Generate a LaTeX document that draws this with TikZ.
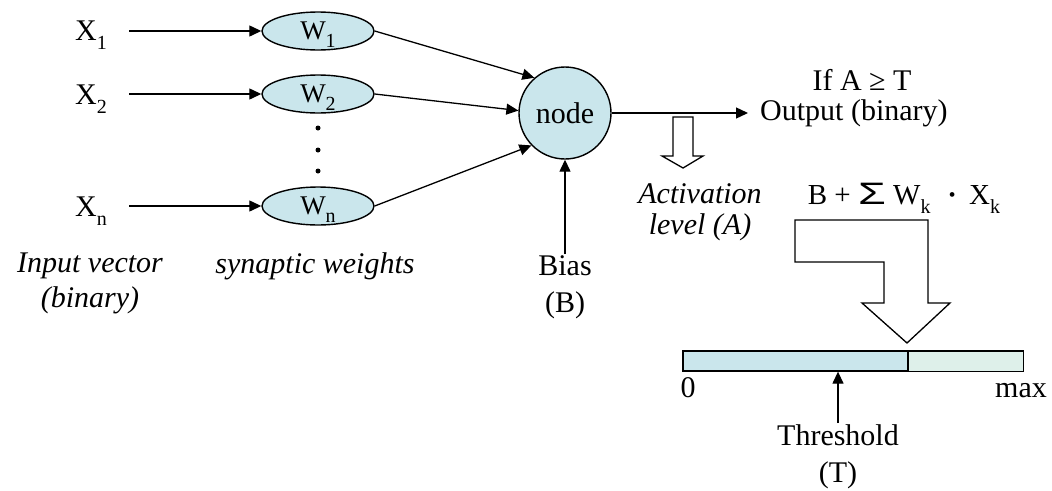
\documentclass[tikz,border=0pt]{standalone}
\usepackage{fontspec}
\usepackage{graphicx}
\setmainfont{Liberation Serif}
\newfontfamily\sigmafont{Liberation Sans}
\usetikzlibrary{arrows.meta,shapes.geometric}
\definecolor{cellfill}{RGB}{202,230,236}
\definecolor{barhi}{RGB}{222,240,234}
% lowered subscript that does not change the height of the line
\newcommand\lowsub[1]{\smash{\raisebox{-0.3em}{\fontsize{20}{20}\selectfont #1}}}
\begin{document}
\begin{tikzpicture}[x=1pt,y=-1pt,
  every node/.style={font=\fontsize{30}{36}\selectfont},
  arr/.style={-{Triangle[length=12pt,width=11pt]}, line width=1.3pt},
  weight/.style={ellipse, draw, line width=1.4pt, fill=cellfill,
    minimum width=112pt, minimum height=38pt, inner sep=0pt,
    font=\fontsize{27}{30}\selectfont},
  neuron/.style={circle, draw, line width=1.4pt, fill=cellfill,
    minimum size=92pt, inner sep=0pt},
  hollow/.style={draw, line width=1.3pt, fill=white, line join=miter},
  tag/.style={inner sep=1pt, align=center},
  itag/.style={tag, font=\itshape\fontsize{30}{34}\selectfont},
]
\path[use as bounding box] (0,0) rectangle (1052,490);

% inputs
\node[anchor=base west, inner sep=0pt] (x1) at (75,40)  {X\lowsub{1}};
\node[anchor=base west, inner sep=0pt] (x2) at (75,104) {X\lowsub{2}};
\node[anchor=base west, inner sep=0pt] (xn) at (75,216) {X\lowsub{n}};

% synaptic weights
\node[weight] (w1) at (318,31)  {W\lowsub{1}};
\node[weight] (w2) at (318,94)  {W\lowsub{2}};
\node[weight] (wn) at (318,206) {W\lowsub{n}};
\fill (318,128) circle (2.5pt);
\fill (318,150) circle (2.5pt);
\fill (318,171) circle (2.5pt);

\draw[arr, shorten <=22pt] (x1.east |- w1.west) -- (w1.west);
\draw[arr, shorten <=22pt] (x2.east |- w2.west) -- (w2.west);
\draw[arr, shorten <=22pt] (xn.east |- wn.west) -- (wn.west);

% the neuron
\node[neuron] (nd) at (565,113) {node};
\draw[arr] (w1.east) -- (nd.131);
\draw[arr] (w2.east) -- (nd.177);
\draw[arr] (wn.east) -- (nd.224);

% output
\node[anchor=west, inner sep=0pt] (out) at (760,113) {Output (binary)};
\node[inner sep=0pt] (cond) at (862,80) {If A ≥ T};
\draw[arr, shorten >=12pt] (nd.east) -- (out.west);

% bias
\node[tag, anchor=north, font=\fontsize{30}{37}\selectfont] (bias) at (565,254) {Bias\\(B)};
\draw[arr] (bias.north) -- (nd.south);

% activation level
\draw[hollow] (673,117) -- (693,117) -- (693,156) -- (703,156) -- (683,168)
  -- (662,156) -- (673,156) -- cycle;
\node[itag, anchor=north, font=\itshape\fontsize{30}{31}\selectfont] (act) at (700,182) {Activation\\level (A)};

% weighted sum
\node[font=\fontsize{29}{32}\selectfont, inner sep=0pt] (sum) at (904,194)
  {B + {\sigmafont\fontsize{31}{31}\selectfont\scalebox{1.45}[1]{Σ}} W\lowsub{k}\,\, {\bfseries ·}\, X\lowsub{k}};
\draw[hollow] (795,220) -- (928,220) -- (928,303) -- (950,303) -- (907,343)
  -- (862,303) -- (884,303) -- (884,262) -- (795,262) -- cycle;

% threshold scale
\node[draw, line width=1.3pt, fill=cellfill, minimum width=340pt, minimum height=20pt,
  inner sep=0pt] (bar) at (853,361) {};
\draw[line width=1.3pt, fill=barhi] (908,351) rectangle (bar.south east);
\node[anchor=base] (zero) at (688,397) {0};
\node[anchor=base] (max) at (1021,397) {max};
\node[tag, anchor=north, font=\fontsize{30}{37}\selectfont] (thr) at (838,423) {Threshold\\(T)};
\draw[arr] (thr.north) -- (thr.north |- bar.south);

% captions
\node[itag, anchor=north, font=\itshape\fontsize{30}{35}\selectfont] (inp) at (90,252) {Input vector\\(binary)};
\node[itag, anchor=base] (syn) at (315,273) {synaptic weights};
\end{tikzpicture}
\end{document}
